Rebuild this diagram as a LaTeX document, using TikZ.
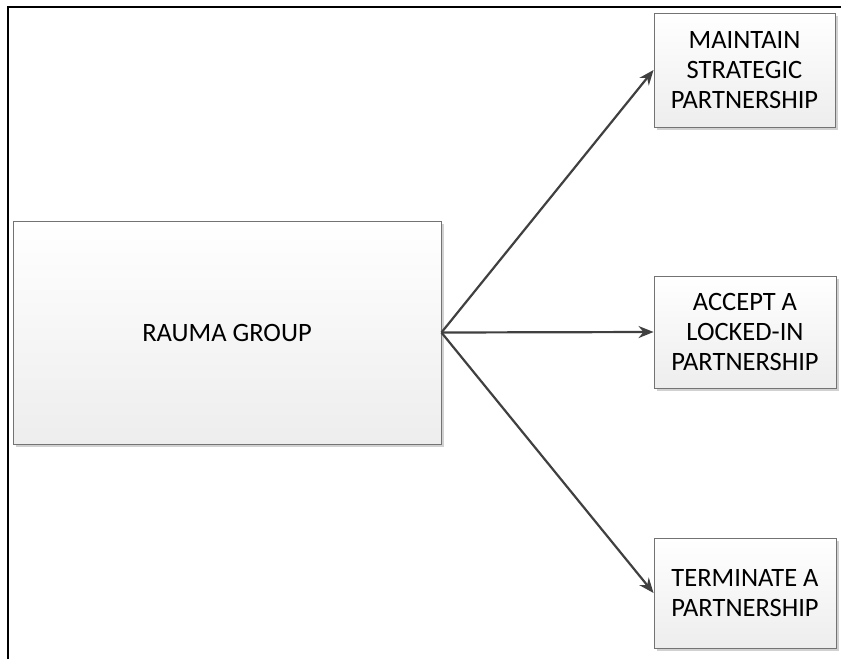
\documentclass[tikz,border=0pt]{standalone}
\usepackage{fontspec}
\setmainfont{Carlito}
\usetikzlibrary{arrows.meta,shadows}
\begin{document}
\begin{tikzpicture}[x=1pt,y=-1pt,
  box/.style={draw=black!55, line width=0.9pt, top color=white, bottom color=black!7,
    drop shadow={shadow xshift=3pt, shadow yshift=-3pt, fill=black!18, opacity=1},
    align=center, font=\fontsize{26.5}{30}\selectfont, inner sep=0pt},
  conn/.style={draw=black!75, line width=2.2pt, -{Stealth[length=15pt,width=12pt]}}]
\useasboundingbox (0,0) rectangle (841,659);
\draw[line width=1.3pt] (8,659) -- (8,7) -- (841,7);
\node[box, minimum width=428pt, minimum height=223pt] (rauma) at (227,332.5) {RAUMA GROUP};
\node[box, minimum width=181pt, minimum height=114pt] (maintain) at (744.5,70) {MAINTAIN\\STRATEGIC\\PARTNERSHIP};
\node[box, minimum width=182pt, minimum height=112pt] (accept) at (745,332) {ACCEPT A\\LOCKED-IN\\PARTNERSHIP};
\node[box, minimum width=182pt, minimum height=110pt] (term) at (745,593) {TERMINATE A\\PARTNERSHIP};
\coordinate (src) at (rauma.east);
\draw[conn] (src) -- (maintain.west);
\draw[conn] (src) -- (accept.west);
\draw[conn] (src) -- (term.west);
\end{tikzpicture}
\end{document}
